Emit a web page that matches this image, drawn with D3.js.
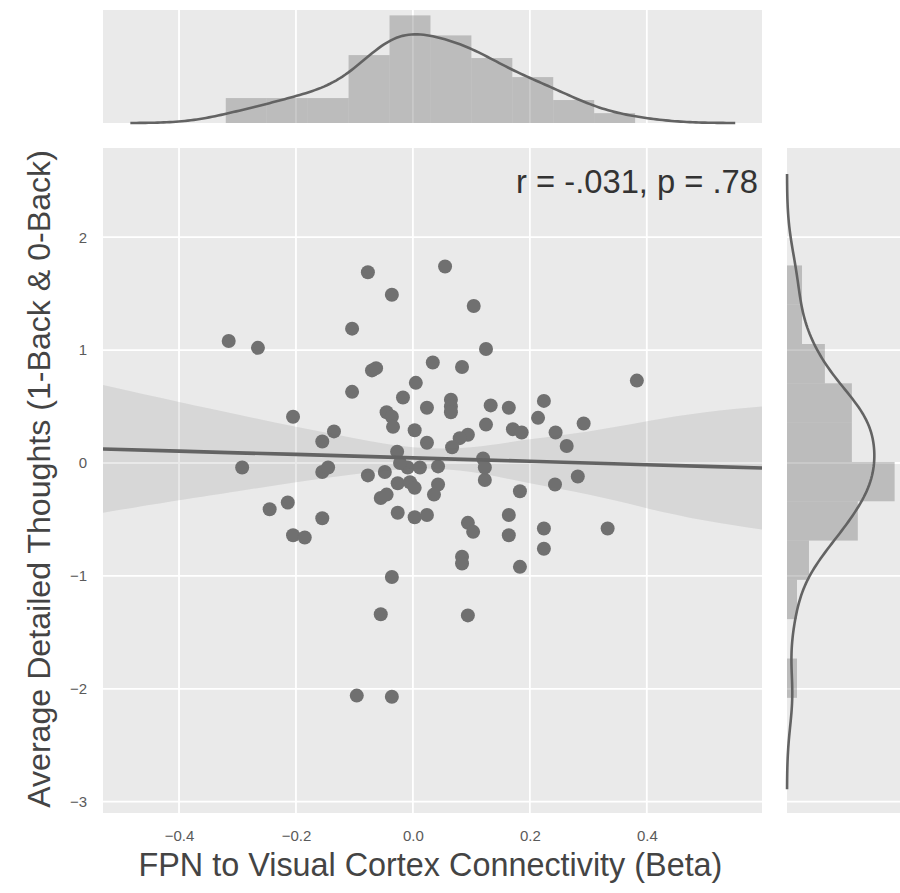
<!DOCTYPE html>
<html>
<head>
<meta charset="utf-8">
<script src="https://cdn.jsdelivr.net/npm/d3@7"></script>
<style>
  body { margin: 0; background: #fff; }
  svg text { font-family: 'Liberation Sans', Arial, sans-serif; }
</style>
</head>
<body>
<svg id="joint" width="900" height="893"></svg>
<script>
// FPN to visual cortex connectivity (beta), one per participant
const betaValues = [
  0.055, -0.077, -0.036, 0.104, -0.104, -0.315, -0.265, 0.125, 0.034, 0.084,
  -0.070, -0.063, -0.104, 0.383, 0.005, -0.017, 0.065, 0.133, 0.024, 0.164,
  0.224, 0.065, -0.045, 0.065, -0.036, -0.205, 0.214, 0.125, 0.292, -0.034,
  0.171, 0.186, 0.244, 0.003, -0.135, 0.094, 0.080, -0.155, 0.024, 0.067,
  0.263, -0.027, 0.120, -0.292, -0.155, -0.145, -0.077, -0.048, -0.009, 0.012,
  0.043, 0.123, -0.022, 0.282, 0.123, 0.243, 0.183, 0.043, 0.036, -0.026,
  -0.005, 0.003, -0.055, -0.045, -0.214, -0.245, -0.026, 0.003, 0.024, 0.164,
  -0.155, 0.094, 0.103, 0.164, 0.224, 0.333, -0.205, -0.185, 0.224, 0.084,
  0.084, 0.183, -0.036, -0.055, 0.094, -0.096, -0.036
]
// average detailed thoughts (1-back & 0-back), same order
const thoughtValues = [
  1.74, 1.69, 1.49, 1.39, 1.19, 1.08, 1.02, 1.01, 0.89, 0.85,
  0.82, 0.84, 0.63, 0.73, 0.71, 0.58, 0.56, 0.51, 0.49, 0.49,
  0.55, 0.50, 0.45, 0.45, 0.41, 0.41, 0.40, 0.34, 0.35, 0.32,
  0.30, 0.27, 0.27, 0.29, 0.28, 0.25, 0.22, 0.19, 0.18, 0.14,
  0.15, 0.10, 0.04, -0.04, -0.08, -0.04, -0.11, -0.08, -0.04, -0.04,
  -0.03, -0.04, 0.00, -0.12, -0.15, -0.19, -0.25, -0.19, -0.28, -0.18,
  -0.17, -0.22, -0.31, -0.28, -0.35, -0.41, -0.44, -0.48, -0.46, -0.46,
  -0.49, -0.53, -0.61, -0.64, -0.58, -0.58, -0.64, -0.66, -0.76, -0.83,
  -0.89, -0.92, -1.01, -1.34, -1.35, -2.06, -2.07
]

const xTicks = [-0.4, -0.2, 0, 0.2, 0.4]
const yTicks = [2, 1, 0, -1, -2, -3]
const xDomain = [-0.53, 0.597]
const yDomain = [-3.10, 2.79]

// fitted line with its 95% band
const fitX = [-0.53, -0.4, -0.3, -0.2, -0.1, 0, 0.1, 0.2, 0.3, 0.4, 0.5, 0.597]
const fitY = [0.124, 0.105, 0.090, 0.076, 0.061, 0.045, 0.030, 0.015, 0.0, -0.015, -0.030, -0.044]
const bandLow = [-0.44, -0.33, -0.25, -0.17, -0.10, -0.05, -0.08, -0.18, -0.28, -0.40, -0.51, -0.59]
const bandHigh = [0.69, 0.54, 0.43, 0.32, 0.22, 0.14, 0.14, 0.21, 0.28, 0.37, 0.45, 0.50]

// marginal histograms (density)
const topBinEdges = [-0.32, -0.25, -0.18, -0.11, -0.04, 0.03, 0.10, 0.17, 0.24, 0.31, 0.38]
const topBinDensity = [0.76, 0.76, 0.76, 2.07, 3.28, 2.67, 1.98, 1.40, 0.70, 0.30]
const sideBinEdges = [1.75, 1.402, 1.054, 0.706, 0.357, 0.009, -0.339, -0.687, -1.035, -1.383, -1.732, -2.08]
const sideBinDensity = [0.099, 0.099, 0.25, 0.428, 0.428, 0.71, 0.467, 0.145, 0.066, 0, 0.066]

const annotation = 'r = -.031, p = .78'
const xTitle = 'FPN to Visual Cortex Connectivity (Beta)'
const yTitle = 'Average Detailed Thoughts (1-Back & 0-Back)'

const mainBox = { left: 103, top: 148, width: 659, height: 665 }
const topBox = { left: 103, top: 10, width: 659, height: 113 }
const sideBox = { left: 787, top: 148, width: 113, height: 665 }

const panelFill = '#eaeaea'
const markGray = '#707070'
const lineGray = '#636363'

/**
 * Gaussian kernel density, bandwidth like statsmodels 'scott', cut at 3 bw.
 *
 * @param {number[]} values The sample
 * @returns {number[][]} Pairs of [value, density]
 */
function kde (values) {
  const n = values.length
  const sorted = values.slice().sort(d3.ascending)
  const iqr = d3.quantile(sorted, 0.75) - d3.quantile(sorted, 0.25)
  const bw = 1.059 * Math.min(d3.deviation(values), iqr / 1.349) * Math.pow(n, -0.2)
  const lo = sorted[0] - 3 * bw
  const hi = sorted[n - 1] + 3 * bw
  return d3.range(201).map(i => {
    const v = lo + (hi - lo) * i / 200
    const d = d3.mean(values, x => Math.exp(-0.5 * ((v - x) / bw) ** 2))
    return [v, d / (bw * Math.sqrt(2 * Math.PI))]
  })
}

/**
 * Appends a g translated to the given box, with its grey background.
 *
 * @param {*} svg The d3 Selection of the svg
 * @param {object} box left, top, width, height
 * @returns {*} The created g
 */
function appendPanel (svg, box) {
  const g = svg.append('g')
    .attr('transform', 'translate(' + box.left + ',' + box.top + ')')
  g.append('rect')
    .attr('width', box.width)
    .attr('height', box.height)
    .attr('fill', panelFill)
  return g
}

/**
 * Shrinks or grows a text's font size so that it spans the given length.
 *
 * @param {*} text The d3 Selection of the text
 * @param {number} length Target length in pixels
 */
function fitText (text, length) {
  const size = parseFloat(text.attr('font-size'))
  const w = text.node().getComputedTextLength()
  text.attr('font-size', (size * length / w).toFixed(2))
}

const svg = d3.select('#joint')

const xScale = d3.scaleLinear().domain(xDomain).range([0, mainBox.width])
const yScale = d3.scaleLinear().domain(yDomain).range([mainBox.height, 0])

// ---- main scatter panel
const g = appendPanel(svg, mainBox)

g.append('clipPath').attr('id', 'main-clip')
  .append('rect').attr('width', mainBox.width).attr('height', mainBox.height)

g.append('g').selectAll('line.vx')
  .data(xTicks)
  .join('line')
  .attr('x1', d => xScale(d)).attr('x2', d => xScale(d))
  .attr('y1', 0).attr('y2', mainBox.height)
  .attr('stroke', '#fff').attr('stroke-width', 1.8)

g.append('g').selectAll('line.hy')
  .data(yTicks)
  .join('line')
  .attr('x1', 0).attr('x2', mainBox.width)
  .attr('y1', d => yScale(d)).attr('y2', d => yScale(d))
  .attr('stroke', '#fff').attr('stroke-width', 1.8)

g.append('g').selectAll('circle')
  .data(betaValues.map((b, i) => [b, thoughtValues[i]]))
  .join('circle')
  .attr('cx', d => xScale(d[0]))
  .attr('cy', d => yScale(d[1]))
  .attr('r', 7)
  .attr('fill', markGray)

const fitRows = fitX.map((x, i) => ({ x, y: fitY[i], lo: bandLow[i], hi: bandHigh[i] }))

g.append('path')
  .datum(fitRows)
  .attr('clip-path', 'url(#main-clip)')
  .attr('fill', '#6a6a6a')
  .attr('fill-opacity', 0.15)
  .attr('d', d3.area()
    .curve(d3.curveNatural)
    .x(d => xScale(d.x))
    .y0(d => yScale(d.lo))
    .y1(d => yScale(d.hi)))

g.append('path')
  .datum(fitRows)
  .attr('clip-path', 'url(#main-clip)')
  .attr('fill', 'none')
  .attr('stroke', lineGray)
  .attr('stroke-width', 3.6)
  .attr('d', d3.line().x(d => xScale(d.x)).y(d => yScale(d.y)))

const note = g.append('text')
  .text(annotation)
  .attr('x', mainBox.width - 4)
  .attr('y', 45)
  .attr('text-anchor', 'end')
  .attr('font-size', 30)
  .attr('fill', '#333')
fitText(note, 242)

// axes (no tick marks)
const fmtX = d3.format('.1f')
g.append('g')
  .attr('transform', 'translate(0,' + mainBox.height + ')')
  .call(d3.axisBottom(xScale).tickValues(xTicks).tickSize(0).tickPadding(17).tickFormat(fmtX))
  .call(a => a.select('.domain').remove())
  .selectAll('text')
  .attr('font-size', 15)
  .attr('fill', '#5a5a5a')

g.append('g')
  .call(d3.axisLeft(yScale).tickValues(yTicks).tickSize(0).tickPadding(16).tickFormat(d3.format('d')))
  .call(a => a.select('.domain').remove())
  .selectAll('text')
  .attr('font-size', 15)
  .attr('fill', '#5a5a5a')

const xt = svg.append('text')
  .text(xTitle)
  .attr('x', mainBox.left + xScale(0.03))
  .attr('y', 876)
  .attr('text-anchor', 'middle')
  .attr('font-size', 30)
  .attr('fill', '#444')
fitText(xt, 584)

const yt = svg.append('text')
  .text(yTitle)
  .attr('transform', 'translate(50,' + 479 + ') rotate(-90)')
  .attr('text-anchor', 'middle')
  .attr('font-size', 30)
  .attr('fill', '#444')
fitText(yt, 658)

// ---- top marginal
const tg = appendPanel(svg, topBox)
const topKde = kde(betaValues)
const topY = d3.scaleLinear()
  .domain([0, d3.max(topBinDensity) * 1.05])
  .range([topBox.height, 0])

tg.selectAll('line.vx')
  .data(xTicks)
  .join('line')
  .attr('x1', d => xScale(d)).attr('x2', d => xScale(d))
  .attr('y1', 0).attr('y2', topBox.height)
  .attr('stroke', '#fff').attr('stroke-width', 1.8)

tg.append('g').selectAll('rect')
  .data(topBinDensity)
  .join('rect')
  .attr('x', (d, i) => xScale(topBinEdges[i]))
  .attr('width', (d, i) => xScale(topBinEdges[i + 1]) - xScale(topBinEdges[i]))
  .attr('y', d => topY(d))
  .attr('height', d => topY(0) - topY(d))
  .attr('fill', '#777')
  .attr('fill-opacity', 0.4)

tg.append('path')
  .datum(topKde)
  .attr('fill', 'none')
  .attr('stroke', lineGray)
  .attr('stroke-width', 2.6)
  .attr('d', d3.line().x(d => xScale(d[0])).y(d => topY(d[1])))

// ---- right marginal
const sg = appendPanel(svg, sideBox)
const sideKde = kde(thoughtValues)
const sideX = d3.scaleLinear()
  .domain([0, d3.max(sideBinDensity) * 1.05])
  .range([0, sideBox.width])

sg.selectAll('line.hy')
  .data(yTicks)
  .join('line')
  .attr('x1', 0).attr('x2', sideBox.width)
  .attr('y1', d => yScale(d)).attr('y2', d => yScale(d))
  .attr('stroke', '#fff').attr('stroke-width', 1.8)

sg.append('g').selectAll('rect')
  .data(sideBinDensity)
  .join('rect')
  .attr('y', (d, i) => yScale(sideBinEdges[i]))
  .attr('height', (d, i) => yScale(sideBinEdges[i + 1]) - yScale(sideBinEdges[i]))
  .attr('x', 0)
  .attr('width', d => sideX(d))
  .attr('fill', '#777')
  .attr('fill-opacity', 0.4)

sg.append('path')
  .datum(sideKde)
  .attr('fill', 'none')
  .attr('stroke', lineGray)
  .attr('stroke-width', 2.6)
  .attr('d', d3.line().x(d => sideX(d[1])).y(d => yScale(d[0])))
</script>
</body>
</html>
